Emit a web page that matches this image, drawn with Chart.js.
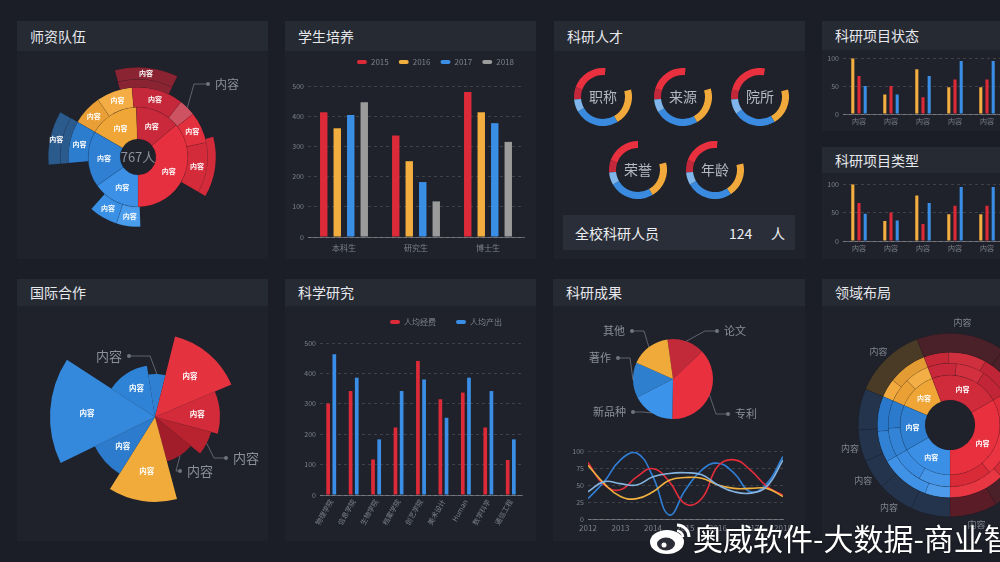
<!DOCTYPE html>
<html>
<head>
<meta charset="utf-8">
<script src="https://cdn.jsdelivr.net/npm/chart.js@4.4.1/dist/chart.umd.min.js"></script>
<style>
  html, body { margin: 0; padding: 0; }
  body { width: 1000px; height: 562px; overflow: hidden; position: relative; background: #1b1e26;
         font-family: "Noto Sans CJK SC", "Noto Sans", sans-serif; }
  .panel { position: absolute; background: #1f222b; }
  .head { position: absolute; left: 0; top: 0; right: 0; background: #262a33; color: #e6e8ec;
          font-size: 14px; padding-left: 13px; }
  canvas { position: absolute; }
  .txt { position: absolute; white-space: nowrap; }
</style>
</head>
<body>
<div class="panel" style="left:17px;top:21px;width:251px;height:238px"><div class="head" style="height:30px;line-height:30px">师资队伍</div></div>
<div class="panel" style="left:285px;top:21px;width:251px;height:238px"><div class="head" style="height:30px;line-height:30px">学生培养</div></div>
<div class="panel" style="left:554px;top:21px;width:251px;height:238px"><div class="head" style="height:30px;line-height:30px">科研人才</div></div>
<div class="panel" style="left:822px;top:21px;width:200px;height:110px"><div class="head" style="height:29px;line-height:29px">科研项目状态</div></div>
<div class="panel" style="left:822px;top:147px;width:200px;height:112px"><div class="head" style="height:26px;line-height:26px">科研项目类型</div></div>
<div class="panel" style="left:17px;top:279px;width:251px;height:262px"><div class="head" style="height:27px;line-height:27px">国际合作</div></div>
<div class="panel" style="left:285px;top:279px;width:251px;height:262px"><div class="head" style="height:27px;line-height:27px">科学研究</div></div>
<div class="panel" style="left:553px;top:279px;width:252px;height:262px"><div class="head" style="height:27px;line-height:27px">科研成果</div></div>
<div class="panel" style="left:822px;top:279px;width:200px;height:262px"><div class="head" style="height:27px;line-height:27px">领域布局</div></div>

<div class="panel" style="left:563px;top:215px;width:232px;height:35px;background:#2a2e38"></div>
<div class="txt" style="left:575px;top:223px;font-size:14px;color:#eceef2">全校科研人员</div>
<div class="txt" style="left:729px;top:223px;font-size:14px;color:#eceef2">124</div>
<div class="txt" style="left:771px;top:223px;font-size:14px;color:#eceef2">人</div>

<canvas id="c-team" width="251" height="206" style="left:17px;top:52px"></canvas>
<canvas id="c-student" width="245" height="215" style="left:285px;top:48px"></canvas>
<canvas id="c-talent0" width="58" height="58" style="left:574px;top:68px"></canvas>
<canvas id="c-talent1" width="58" height="58" style="left:654px;top:68px"></canvas>
<canvas id="c-talent2" width="58" height="58" style="left:731px;top:68px"></canvas>
<canvas id="c-talent3" width="58" height="58" style="left:609px;top:141px"></canvas>
<canvas id="c-talent4" width="58" height="58" style="left:686px;top:141px"></canvas>
<canvas id="c-status" width="195" height="82" style="left:820px;top:50px"></canvas>
<canvas id="c-type" width="195" height="83" style="left:820px;top:176px"></canvas>
<canvas id="c-coop" width="220" height="220" style="left:45px;top:307px"></canvas>
<canvas id="c-research" width="240" height="243" style="left:293px;top:298px"></canvas>
<canvas id="c-pie" width="200" height="110" style="left:573px;top:324px"></canvas>
<canvas id="c-trend" width="240" height="98" style="left:560px;top:440px"></canvas>
<canvas id="c-field" width="220" height="235" style="left:822px;top:306px"></canvas>

<svg class="txt" style="left:648px;top:519px" width="44" height="38" viewBox="0 0 44 38">
  <ellipse cx="19" cy="23" rx="17" ry="12" fill="#fff"/>
  <ellipse cx="18" cy="25" rx="9" ry="6.5" fill="#2a2d35"/>
  <circle cx="16" cy="26" r="2.5" fill="#fff"/>
  <path d="M29 6 A12 12 0 0 1 41 18" stroke="#fff" stroke-width="3" fill="none"/>
  <path d="M29 12 A6 6 0 0 1 35 18" stroke="#fff" stroke-width="2.5" fill="none"/>
</svg>
<div class="txt" style="left:693px;top:515px;font-size:30px;color:#fff;text-shadow:0 0 2px rgba(0,0,0,0.6)">奥威软件-大数据-商业智能</div>

<script>
// ---------------- data ----------------
// 师资队伍 sunburst (arc sizes in degrees, rings listed outer -> inner; empty slots drawn transparent)
const teamTotal = '767人';
const teamOuter = [45, 41, 239, 35];
const teamBand = [45, 41, 49, 45, 145, 35];
const teamMiddle = [25, 30, 43, 14, 26, 42, 58, 20, 24, 43, 35];
const teamInner = [58, 52, 130, 55, 65];
const teamOuterNames = ['', '内容', '', '内容'];
const teamMiddleNames = ['内容', '内容', '内容', '', '内容', '内容', '', '内容', '内容', '', '内容'];
const teamInnerNames = ['内容', '内容', '内容', '内容', '内容'];

// 学生培养
const studentCats = ['本科生', '研究生', '博士生'];
const studentYears = ['2015', '2016', '2017', '2018'];
const student2015 = [413, 336, 480];
const student2016 = [360, 251, 413];
const student2017 = [404, 182, 377];
const student2018 = [446, 118, 315];

// 科研人才 rings
const talentNames = ['职称', '来源', '院所', '荣誉', '年龄'];
const talentShares = [
  [25, 75, 70, 75, 90, 25],
  [22, 78, 68, 78, 88, 26],
  [20, 85, 65, 75, 85, 30],
  [25, 70, 75, 75, 90, 25],
  [25, 75, 72, 70, 93, 25]
];
const talentTotal = '124';

// 科研项目状态 / 类型
const projectCats = ['内容', '内容', '内容', '内容', '内容'];
const statusA = [100, 35, 80, 48, 48];
const statusB = [68, 50, 30, 62, 62];
const statusC = [50, 35, 68, 95, 95];
const typeA = [100, 35, 80, 47, 47];
const typeB = [67, 50, 30, 62, 62];
const typeC = [48, 36, 67, 95, 95];

// 国际合作 rose (radius value, arc degrees)
const coopRadius = [43, 83, 65, 58, 46, 85, 67, 105, 52];
const coopAngle = [23, 53, 38, 24, 36, 47, 32, 59, 48];
const coopNames = ['', '内容', '内容', '', '', '内容', '内容', '内容', '内容'];

// 科学研究
const researchCats = ['物理学院', '信息学院', '生物学院', '档案学院', '创艺学院', '美术设计', 'Human', '数学科学', '通信工程'];
const researchFunds = [301, 342, 117, 222, 441, 315, 337, 222, 115];
const researchOutput = [463, 386, 183, 342, 380, 254, 386, 342, 183];

// 科研成果 pie
const outcomeCats = ['论文', '专利', '新品种', '著作', '其他'];
const outcomeVals = [15, 37, 17, 14, 16];

// 科研成果 trend lines
const trendX = [2012, 2012.5, 2013, 2013.5, 2014, 2014.5, 2015, 2015.5, 2016, 2016.5, 2017, 2017.5, 2018];
const trendRed = [83, 50, 43, 62, 74, 55, 22, 30, 78, 87, 72, 48, 35];
const trendYellow = [79, 52, 33, 30, 40, 57, 61, 60, 50, 45, 45, 45, 33];
const trendBlue = [30, 55, 87, 97, 62, 6, 43, 72, 82, 67, 40, 52, 92];
const trendSky = [40, 55, 52, 50, 62, 67, 68, 65, 50, 40, 38, 48, 87];

// 领域布局 sunburst (degrees)
const fieldOuter = [46, 56, 115, 30, 25, 23, 19, 20, 26];
const fieldRim = [15, 31, 20, 30, 31, 30, 45, 45, 20, 40, 25, 28];
const fieldMid = [23, 23, 27, 27, 27, 40, 40, 40, 30, 30, 27, 26];
const fieldInner = [46, 81, 120, 60, 53];
const fieldOuterNames = ['内容', '内容', '', '内容', '', '内容', '内容', '内容', ''];
const fieldInnerNames = ['内容', '内容', '内容', '内容', '内容'];

// ---------------- style ----------------
const RED = '#dc2a38', ORANGE = '#f4ae3f', BLUE = '#3a8ee6', GREY = '#9b9b9b';
const GRID = 'rgba(255,255,255,0.14)', AXIS = 'rgba(255,255,255,0.3)';
const FONT = '"Noto Sans CJK SC", "Noto Sans", sans-serif';

Chart.defaults.font.family = FONT;
Chart.defaults.font.size = 8;
Chart.defaults.color = '#7c818b';
Chart.defaults.animation = false;
Chart.defaults.responsive = false;
Chart.defaults.plugins.tooltip.enabled = false;
Chart.defaults.plugins.legend.display = false;

const edge = cols => cols.map(c => c === 'transparent' ? 'transparent' : 'rgba(0,0,0,0.18)');

// labels inside arcs, centre text and callouts
const decor = {
  id: 'decor',
  afterDatasetsDraw(chart, args, o) {
    const ctx = chart.ctx;
    ctx.save();
    ctx.textAlign = 'center';
    ctx.textBaseline = 'middle';
    chart.data.datasets.forEach((ds, di) => {
      if (!ds.names && !ds.outerNames) return;
      chart.getDatasetMeta(di).data.forEach((arc, i) => {
        const p = arc.getProps(['x', 'y', 'startAngle', 'endAngle', 'innerRadius', 'outerRadius']);
        const a = (p.startAngle + p.endAngle) / 2;
        if (ds.names && ds.names[i]) {
          const r = o.labelRatio ? p.outerRadius * o.labelRatio : (p.innerRadius + p.outerRadius) / 2;
          ctx.font = 'bold ' + (o.labelSize || 7) + 'px ' + FONT;
          ctx.fillStyle = '#fff';
          ctx.fillText(ds.names[i], p.x + Math.cos(a) * r, p.y + Math.sin(a) * r);
        }
        if (ds.outerNames && ds.outerNames[i]) {
          const r = p.outerRadius + (o.outerGap || 10);
          ctx.font = '9px ' + FONT;
          ctx.fillStyle = '#7f848e';
          ctx.fillText(ds.outerNames[i], p.x + Math.cos(a) * r, p.y + Math.sin(a) * r);
        }
      });
    });
    if (o.center) {
      const arc = chart.getDatasetMeta(0).data[0];
      ctx.font = o.center.size + 'px ' + FONT;
      ctx.fillStyle = o.center.color;
      ctx.fillText(o.center.text, arc.x, arc.y);
    }
    (o.callouts || []).forEach(c => {
      const arc = chart.getDatasetMeta(c.ds).data[c.index];
      const p = arc.getProps(['x', 'y', 'startAngle', 'endAngle', 'outerRadius']);
      const a = (p.startAngle + p.endAngle) / 2;
      const x0 = p.x + Math.cos(a) * p.outerRadius, y0 = p.y + Math.sin(a) * p.outerRadius;
      const ex = c.dot[0] - c.side * c.len, ey = c.dot[1];
      ctx.strokeStyle = 'rgba(150,155,165,0.55)';
      ctx.lineWidth = 1;
      ctx.beginPath();
      ctx.moveTo(x0, y0);
      ctx.lineTo(ex, ey);
      ctx.lineTo(c.dot[0], c.dot[1]);
      ctx.stroke();
      ctx.fillStyle = '#6f747e';
      ctx.beginPath();
      ctx.arc(c.dot[0], c.dot[1], 2, 0, Math.PI * 2);
      ctx.fill();
      ctx.font = (o.calloutSize || 12) + 'px ' + FONT;
      ctx.fillStyle = '#8b9099';
      ctx.textAlign = c.side > 0 ? 'left' : 'right';
      ctx.fillText(c.text, c.dot[0] + c.side * 7, c.dot[1]);
      ctx.textAlign = 'center';
    });
    ctx.restore();
  }
};
Chart.register(decor);

const legendGap = gap => ({
  id: 'legendGap',
  beforeInit(chart) {
    const fit = chart.legend.fit;
    chart.legend.fit = function () { fit.call(this); this.height += gap; };
  }
});

function yAxis(max, step, width) {
  return {
    min: 0, max,
    ticks: { stepSize: step, padding: 4, font: { size: 7 } },
    grid: { color: GRID, drawTicks: false },
    border: { display: false, dash: [3, 3] },
    afterFit: s => { s.width = width; }
  };
}
function xAxis(height, extra) {
  return Object.assign({
    grid: { display: false, drawTicks: false },
    border: { color: AXIS },
    ticks: { padding: 6, font: { size: 8 } },
    afterFit: s => { s.height = height; }
  }, extra || {});
}
function bars(label, data, color, bp, cp) {
  return { label, data, backgroundColor: color, barPercentage: bp, categoryPercentage: cp };
}

// ---------------- 师资队伍 ----------------
const teamOuterColors = ['transparent', '#8a2433', 'transparent', '#2b5a8c'];
const teamBandColors = ['transparent', '#8a2433', 'transparent', '#d42b3a', 'transparent', '#2b5a8c'];
const teamMiddleColors = ['#e99f35', '#f3ad44', '#c4283a', 'rgba(236,92,108,0.85)', '#e2303f', '#d42b3a',
                          'transparent', '#4a9cec', '#3990e4', 'transparent', '#2d7dcf'];
const teamInnerColors = ['#f0a637', '#c9293a', '#e6303f', '#3c90e6', '#2f80d3'];
new Chart(document.getElementById('c-team'), {
  type: 'doughnut',
  data: {
    datasets: [
      { data: teamOuter, names: teamOuterNames, backgroundColor: teamOuterColors, borderColor: edge(teamOuterColors), borderWidth: 0.5, weight: 12 },
      { data: teamBand, backgroundColor: teamBandColors, borderColor: 'transparent', borderWidth: 0, weight: 8 },
      { data: teamMiddle, names: teamMiddleNames, backgroundColor: teamMiddleColors, borderColor: edge(teamMiddleColors), borderWidth: 0.5, weight: 20 },
      { data: teamInner, names: teamInnerNames, backgroundColor: teamInnerColors, borderColor: edge(teamInnerColors), borderWidth: 0.5, weight: 32 }
    ]
  },
  options: {
    rotation: -60,
    cutout: 18,
    layout: { padding: { left: 31, top: 15, right: 40, bottom: 11 } },
    plugins: {
      decor: {
        labelSize: 7,
        center: { text: teamTotal, size: 13, color: '#8d929c' },
        callouts: [{ ds: 2, index: 3, side: 1, len: 14, dot: [191, 32], text: '内容' }]
      }
    }
  }
});

// ---------------- 学生培养 ----------------
new Chart(document.getElementById('c-student'), {
  type: 'bar',
  data: {
    labels: studentCats,
    datasets: [
      bars(studentYears[0], student2015, RED, 0.55, 0.75),
      bars(studentYears[1], student2016, ORANGE, 0.55, 0.75),
      bars(studentYears[2], student2017, BLUE, 0.55, 0.75),
      bars(studentYears[3], student2018, GREY, 0.55, 0.75)
    ]
  },
  options: {
    layout: { padding: { right: 6 } },
    plugins: {
      legend: {
        display: true, align: 'end',
        labels: { boxWidth: 10, boxHeight: 4, padding: 10, useBorderRadius: true, borderRadius: 2, font: { size: 8 } }
      }
    },
    scales: { x: xAxis(26), y: yAxis(500, 100, 23) }
  },
  plugins: [legendGap(10)]
});

// ---------------- 科研人才 ----------------
const talentColors = ['#c2283a', '#e8303e', 'transparent', '#f2a93b', '#3a8be0', '#7fb5ea'];
talentNames.forEach((name, k) => {
  new Chart(document.getElementById('c-talent' + k), {
    type: 'doughnut',
    data: { labels: talentColors.map(() => name), datasets: [{ data: talentShares[k], backgroundColor: talentColors, borderWidth: 0 }] },
    options: {
      rotation: -95,
      cutout: 22,
      plugins: { decor: { center: { text: name, size: 14, color: '#b4b9c2' } } }
    }
  });
});

// ---------------- 科研项目状态 / 类型 ----------------
function projectChart(id, a, b, c) {
  new Chart(document.getElementById(id), {
    type: 'bar',
    data: {
      labels: projectCats,
      datasets: [bars('A', a, ORANGE, 0.5, 0.58), bars('B', b, RED, 0.5, 0.58), bars('C', c, BLUE, 0.5, 0.58)]
    },
    options: {
      layout: { padding: { top: 8, right: 12 } },
      scales: { x: xAxis(18, { ticks: { padding: 3, font: { size: 7 } } }), y: yAxis(100, 50, 23) }
    }
  });
}
projectChart('c-status', statusA, statusB, statusC);
projectChart('c-type', typeA, typeB, typeC);

// ---------------- 国际合作 ----------------
new Chart(document.getElementById('c-coop'), {
  type: 'polarArea',
  data: {
    labels: coopNames,
    datasets: [{
      data: coopRadius,
      angle: coopAngle,
      names: coopNames,
      backgroundColor: ['#2f80d2', '#e5323f', '#d32b39', '#b9222f', '#a11d29', '#f0ab3a', '#2c7bcc', '#3489dd', '#2f83d6'],
      borderWidth: 0
    }]
  },
  options: {
    scales: { r: { display: false, min: 0, max: 110, startAngle: -9 } },
    plugins: {
      decor: {
        labelRatio: 0.65, labelSize: 7.5, calloutSize: 13,
        callouts: [
          { ds: 0, index: 0, side: -1, len: 21, dot: [84, 49], text: '内容' },
          { ds: 0, index: 3, side: 1, len: 12, dot: [181, 151], text: '内容' },
          { ds: 0, index: 4, side: 1, len: 4, dot: [135, 164], text: '内容' }
        ]
      }
    }
  }
});

// ---------------- 科学研究 ----------------
new Chart(document.getElementById('c-research'), {
  type: 'bar',
  data: {
    labels: researchCats,
    datasets: [
      bars('人均经费', researchFunds, RED, 0.6, 0.55),
      bars('人均产出', researchOutput, BLUE, 0.6, 0.55)
    ]
  },
  options: {
    layout: { padding: { right: 11 } },
    plugins: {
      legend: {
        display: true, align: 'end',
        labels: { boxWidth: 10, boxHeight: 4, padding: 20, useBorderRadius: true, borderRadius: 2, font: { size: 8 } }
      }
    },
    scales: {
      x: xAxis(46, { ticks: { padding: 3, font: { size: 7 }, minRotation: 60, maxRotation: 60, autoSkip: false } }),
      y: yAxis(500, 100, 27)
    }
  },
  plugins: [legendGap(7)]
});

// ---------------- 科研成果 pie ----------------
new Chart(document.getElementById('c-pie'), {
  type: 'pie',
  data: {
    labels: outcomeCats,
    datasets: [{ data: outcomeVals, backgroundColor: ['#c22a3a', '#e8303e', '#3c94ea', '#2f7fcf', '#f0aa3a'], borderWidth: 0 }]
  },
  options: {
    rotation: -8,
    layout: { padding: { left: 60, right: 60, top: 15, bottom: 15 } },
    plugins: {
      decor: {
        calloutSize: 11,
        callouts: [
          { ds: 0, index: 0, side: 1, len: 12, dot: [144, 7], text: outcomeCats[0] },
          { ds: 0, index: 1, side: 1, len: 12, dot: [155, 90], text: outcomeCats[1] },
          { ds: 0, index: 2, side: -1, len: 10, dot: [60, 88], text: outcomeCats[2] },
          { ds: 0, index: 3, side: -1, len: 12, dot: [45, 34], text: outcomeCats[3] },
          { ds: 0, index: 4, side: -1, len: 12, dot: [59, 7], text: outcomeCats[4] }
        ]
      }
    }
  }
});

// ---------------- 科研成果 trend ----------------
const pts = ys => trendX.map((x, i) => ({ x, y: ys[i] }));
new Chart(document.getElementById('c-trend'), {
  type: 'line',
  data: {
    datasets: [
      { data: pts(trendSky), borderColor: '#86b4e0' },
      { data: pts(trendYellow), borderColor: '#f1b13f' },
      { data: pts(trendRed), borderColor: '#e32d3b' },
      { data: pts(trendBlue), borderColor: '#2f7fd6' }
    ]
  },
  options: {
    layout: { padding: { top: 11, right: 17 } },
    elements: { point: { radius: 0 }, line: { tension: 0.45, borderWidth: 1.6 } },
    scales: {
      x: xAxis(19, { type: 'linear', min: 2012, max: 2018,
        ticks: { stepSize: 1, padding: 4, font: { size: 8 }, callback: v => Number.isInteger(v) ? String(v) : '' } }),
      y: yAxis(100, 25, 28)
    }
  }
});

// ---------------- 领域布局 ----------------
const fieldOuterColors = ['#4a3b27', '#4a2029', '#4a2029', '#5a1c26', '#24344c', '#24344c', '#24344c', '#24344c', '#24344c'];
const fieldRimColors = ['#f2aa3f', '#e39b33', '#c62838', '#d0303e', '#bf2535', '#e4303d', '#d52a37', '#e83643',
                        '#4d9bea', '#3f92e5', '#3182d5', '#2a78cb'];
const fieldMidColors = ['#eaa035', '#f3ae45', '#c82839', '#d3303f', '#c22636', '#e02c3a', '#ea3441', '#d82a37',
                        '#4596e8', '#3a8de3', '#3383d6', '#2b7acc'];
const fieldInnerColors = ['#f0a637', '#cf2b3b', '#e8303e', '#3b90e6', '#2f80d3'];
new Chart(document.getElementById('c-field'), {
  type: 'doughnut',
  data: {
    datasets: [
      { data: fieldOuter, outerNames: fieldOuterNames, backgroundColor: fieldOuterColors, borderColor: edge(fieldOuterColors), borderWidth: 0.5, weight: 19 },
      { data: fieldRim, backgroundColor: fieldRimColors, borderColor: edge(fieldRimColors), borderWidth: 0.5, weight: 11 },
      { data: fieldMid, backgroundColor: fieldMidColors, borderColor: edge(fieldMidColors), borderWidth: 0.5, weight: 12 },
      { data: fieldInner, names: fieldInnerNames, backgroundColor: fieldInnerColors, borderColor: edge(fieldInnerColors), borderWidth: 0.5, weight: 25 }
    ]
  },
  options: {
    rotation: -67,
    cutout: 25,
    layout: { padding: { left: 36, top: 27, right: 0, bottom: 24 } },
    plugins: { decor: { labelSize: 7, outerGap: 11 } }
  }
});
</script>
</body>
</html>
